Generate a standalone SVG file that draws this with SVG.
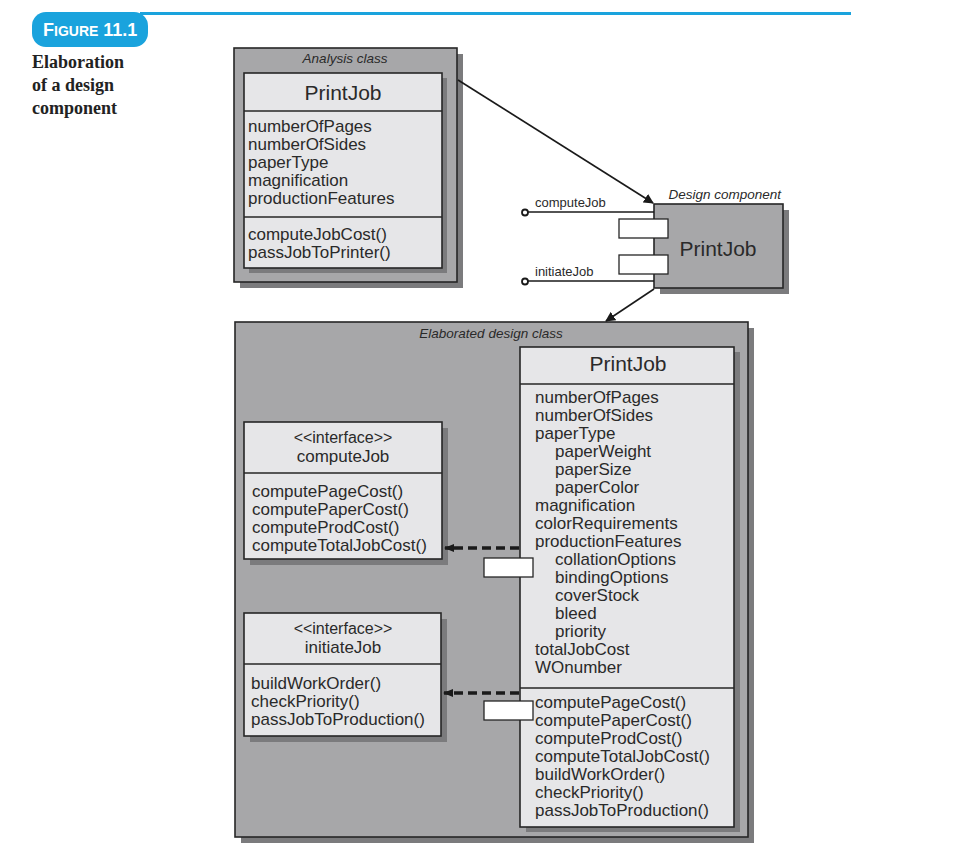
<svg xmlns="http://www.w3.org/2000/svg" width="964" height="860" viewBox="0 0 964 860">
<defs>
<style>
.t{font-family:"Liberation Sans",Arial,sans-serif;fill:#2a2a2a}
.a{font-size:17px}
.ti{font-size:21px;text-anchor:middle}
.lb{font-family:"Liberation Sans",Arial,sans-serif;font-size:13.5px;font-style:italic;fill:#2a2a2a}
.pl{font-family:"Liberation Sans",Arial,sans-serif;font-size:13px;fill:#2a2a2a}
.frame{fill:#a7a7a9;stroke:#262626;stroke-width:1.6}
.box{fill:#e6e6e8;stroke:#262626;stroke-width:1.6}
.sh{fill:#7b7b7d}
.div{stroke:#262626;stroke-width:1.4}
.port{fill:#ffffff;stroke:#262626;stroke-width:1.3}
.con{stroke:#1a1a1a;stroke-width:1.6;fill:none}
.dash{stroke:#1a1a1a;stroke-width:3.5;stroke-dasharray:9 5;fill:none}
</style>
<marker id="ah" viewBox="0 0 10 10" refX="9" refY="5" markerWidth="10" markerHeight="10" markerUnits="userSpaceOnUse" orient="auto">
<path d="M0,0 L10,5 L0,10 z" fill="#1a1a1a"/>
</marker>
<marker id="ahs" viewBox="0 0 10 10" refX="9" refY="5" markerWidth="3" markerHeight="3" orient="auto">
<path d="M0,1 L10,5 L0,9 z" fill="#1a1a1a"/>
</marker>
</defs>
<rect width="964" height="860" fill="#ffffff"/>

<g id="header">
<rect x="140" y="12" width="711" height="3" fill="#1aa3dd"/>
<rect x="32" y="12" width="116" height="35" rx="14" fill="#1aa3dd"/>
<text x="43" y="35.5" font-family="Liberation Sans,Arial,sans-serif" font-weight="bold" fill="#ffffff" font-size="18">F<tspan font-size="14">IGURE</tspan> 11.1</text>
<text font-family="Liberation Serif,Times New Roman,serif" font-weight="bold" font-size="18" fill="#222">
<tspan x="32" y="68">Elaboration</tspan>
<tspan x="32" y="91">of a design</tspan>
<tspan x="32" y="114">component</tspan>
</text>
</g>

<g id="analysis-class">
<rect class="sh" x="240" y="54" width="223" height="234"/>
<rect class="frame" x="234" y="48" width="223" height="234"/>
<text class="lb" x="345" y="63" text-anchor="middle">Analysis class</text>
<rect class="sh" x="249" y="78" width="198" height="195"/>
<rect class="box" x="244" y="73" width="198" height="195"/>
<line class="div" x1="244" y1="111" x2="442" y2="111"/>
<line class="div" x1="244" y1="217" x2="442" y2="217"/>
<text class="t ti" x="343" y="100">PrintJob</text>
<text class="t a">
<tspan x="248" y="132">numberOfPages</tspan>
<tspan x="248" y="150">numberOfSides</tspan>
<tspan x="248" y="168">paperType</tspan>
<tspan x="248" y="186">magnification</tspan>
<tspan x="248" y="204">productionFeatures</tspan>
<tspan x="248" y="240">computeJobCost()</tspan>
<tspan x="248" y="258">passJobToPrinter()</tspan>
</text>
</g>

<g id="design-component">
<rect class="sh" x="660" y="210" width="129" height="84"/>
<rect class="frame" x="654" y="204" width="129" height="84"/>
<text class="lb" x="781" y="199" text-anchor="end">Design component</text>
<text class="t ti" x="718" y="256">PrintJob</text>
<rect class="port" x="619" y="219" width="49" height="19"/>
<rect class="port" x="619" y="255" width="49" height="19"/>
<text class="pl" x="535" y="207">computeJob</text>
<text class="pl" x="535" y="276">initiateJob</text>
<line class="con" x1="528" y1="212" x2="654" y2="212"/>
<circle cx="525" cy="212.5" r="3" fill="#fff" stroke="#1a1a1a" stroke-width="1.8"/>
<line class="con" x1="528" y1="281" x2="654" y2="281"/>
<circle cx="525" cy="281.5" r="3" fill="#fff" stroke="#1a1a1a" stroke-width="1.8"/>
</g>

<g id="elaborated-class">
<rect class="sh" x="241" y="328" width="513" height="515"/>
<rect class="frame" x="235" y="322" width="513" height="515"/>
<text class="lb" x="491" y="338" text-anchor="middle">Elaborated design class</text>
</g>

<g id="printjob-elaborated">
<rect class="sh" x="526" y="352" width="214" height="480"/>
<rect class="box" x="520" y="347" width="214" height="480"/>
<line class="div" x1="520" y1="384" x2="734" y2="384"/>
<line class="div" x1="520" y1="688" x2="734" y2="688"/>
<text class="t ti" x="628" y="371">PrintJob</text>
<text class="t a">
<tspan x="535" y="403">numberOfPages</tspan>
<tspan x="535" y="421">numberOfSides</tspan>
<tspan x="535" y="439">paperType</tspan>
<tspan x="555" y="457">paperWeight</tspan>
<tspan x="555" y="475">paperSize</tspan>
<tspan x="555" y="493">paperColor</tspan>
<tspan x="535" y="511">magnification</tspan>
<tspan x="535" y="529">colorRequirements</tspan>
<tspan x="535" y="547">productionFeatures</tspan>
<tspan x="555" y="565">collationOptions</tspan>
<tspan x="555" y="583">bindingOptions</tspan>
<tspan x="555" y="601">coverStock</tspan>
<tspan x="555" y="619">bleed</tspan>
<tspan x="555" y="637">priority</tspan>
<tspan x="535" y="655">totalJobCost</tspan>
<tspan x="535" y="673">WOnumber</tspan>
<tspan x="535" y="708">computePageCost()</tspan>
<tspan x="535" y="726">computePaperCost()</tspan>
<tspan x="535" y="744">computeProdCost()</tspan>
<tspan x="535" y="762">computeTotalJobCost()</tspan>
<tspan x="535" y="780">buildWorkOrder()</tspan>
<tspan x="535" y="798">checkPriority()</tspan>
<tspan x="535" y="816">passJobToProduction()</tspan>
</text>
<rect class="port" x="484" y="558" width="49" height="19"/>
<rect class="port" x="484" y="701" width="49" height="19"/>
</g>

<g id="interface-computeJob">
<rect class="sh" x="250" y="428" width="198" height="137"/>
<rect class="box" x="244" y="422" width="198" height="137"/>
<line class="div" x1="244" y1="473" x2="442" y2="473"/>
<text class="t a" x="343" y="443" text-anchor="middle" style="font-size:16px">&lt;&lt;interface&gt;&gt;</text>
<text class="t a" x="343" y="462" text-anchor="middle">computeJob</text>
<text class="t a">
<tspan x="252" y="497">computePageCost()</tspan>
<tspan x="252" y="515">computePaperCost()</tspan>
<tspan x="252" y="533">computeProdCost()</tspan>
<tspan x="252" y="551">computeTotalJobCost()</tspan>
</text>
</g>

<g id="interface-initiateJob">
<rect class="sh" x="250" y="619" width="197" height="123"/>
<rect class="box" x="244" y="613" width="197" height="123"/>
<line class="div" x1="244" y1="664" x2="441" y2="664"/>
<text class="t a" x="343" y="634" text-anchor="middle" style="font-size:16px">&lt;&lt;interface&gt;&gt;</text>
<text class="t a" x="343" y="653" text-anchor="middle">initiateJob</text>
<text class="t a">
<tspan x="251" y="689">buildWorkOrder()</tspan>
<tspan x="251" y="707">checkPriority()</tspan>
<tspan x="251" y="725">passJobToProduction()</tspan>
</text>
</g>

<g id="connectors">
<line class="con" x1="458" y1="80" x2="653" y2="203" marker-end="url(#ah)"/>
<line class="con" x1="654" y1="289" x2="606" y2="321" marker-end="url(#ah)"/>
<line class="dash" x1="519" y1="548" x2="445" y2="548" marker-end="url(#ahs)"/>
<line class="dash" x1="519" y1="693" x2="444" y2="693" marker-end="url(#ahs)"/>
</g>
</svg>
